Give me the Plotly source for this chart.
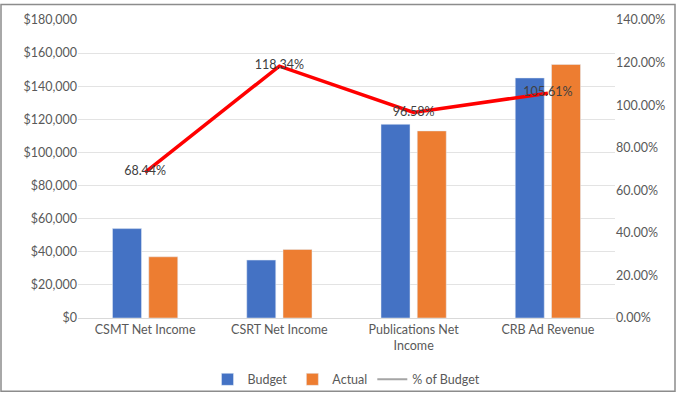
import plotly.graph_objects as go

categories = ["CSMT Net Income", "CSRT Net Income", "Publications Net<br>Income", "CRB Ad Revenue"]
budget = [54000, 35000, 117000, 145000]
actual = [36958, 41419, 113000, 153134]
pct_of_budget = [0.6844, 1.1834, 0.9658, 1.0561]
pct_labels = ["68.44%", "118.34%", "96.58%", "105.61%"]

W, H = 677, 407
L, R, T, B = 78, 62, 17, 81
pw, ph = W - L - R, H - T - B
FS = 12.5

fig = go.Figure()
fig.add_trace(go.Bar(x=categories, y=budget, name="Budget", marker_color="#4472C4"))
fig.add_trace(go.Bar(x=categories, y=actual, name="Actual", marker_color="#ED7D31"))
fig.add_trace(go.Scatter(x=categories, y=pct_of_budget, yaxis="y2", mode="lines+text",
                         text=pct_labels, textposition="middle center",
                         textfont=dict(size=FS, color="#404040"),
                         line=dict(color="#FF0000", width=3.5), showlegend=False,
                         name="% of Budget"))
fig.add_trace(go.Scatter(x=[None], y=[None], mode="lines", name="% of Budget",
                         line=dict(color="#A5A5A5", width=2)))

def px_x(p):
    return (p - L) / pw

def px_y(p):
    return (H - B - p) / ph

fig.update_layout(
    width=W, height=H,
    margin=dict(l=L, r=R, t=T, b=B),
    paper_bgcolor="white", plot_bgcolor="white",
    font=dict(family="Lato", size=FS, color="#595959"),
    barmode="group", bargap=0.46, bargroupgap=0.2,
    xaxis=dict(showgrid=False, showline=True, linecolor="#D9D9D9", ticks="",
               tickfont=dict(size=FS, color="#595959")),
    yaxis=dict(range=[0, 180000], dtick=20000, tickprefix="$", tickformat=",",
               showgrid=True, gridcolor="#E3E3E3", zeroline=False, ticks="",
               tickfont=dict(size=FS, color="#595959")),
    yaxis2=dict(range=[0, 1.4], dtick=0.2, tickformat=".2%", overlaying="y", side="right",
                showgrid=False, zeroline=False, ticks="",
                tickfont=dict(size=FS, color="#595959")),
    legend=dict(orientation="h", x=0.5, xanchor="center", y=px_y(390), yanchor="middle",
                bgcolor="rgba(0,0,0,0)",
                font=dict(size=FS, color="#595959"), traceorder="normal"),
    shapes=[dict(type="rect", xref="paper", yref="paper",
                 x0=px_x(1), x1=px_x(675), y0=px_y(402), y1=px_y(1),
                 line=dict(color="#8C8C8C", width=1.5), fillcolor="rgba(0,0,0,0)", layer="above")],
)

fig.write_html("out.html")
